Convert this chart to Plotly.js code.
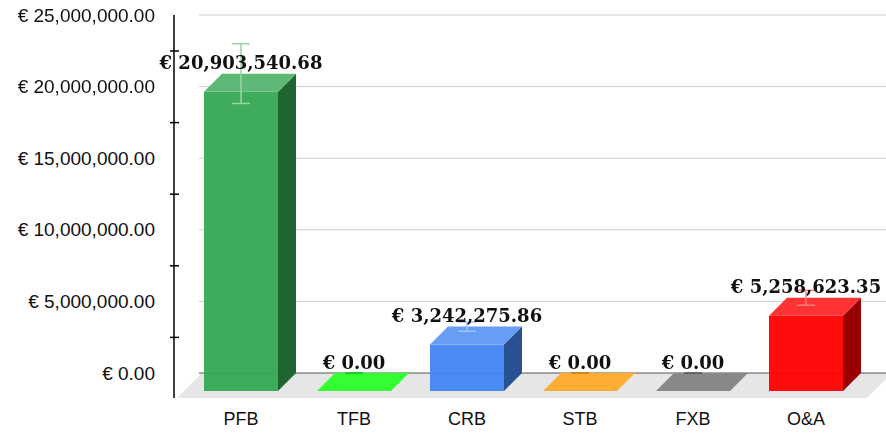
<!DOCTYPE html>
<html>
<head>
<meta charset="utf-8">
<script src="https://cdn.plot.ly/plotly-3.0.1.min.js"></script>
<style>html,body{margin:0;padding:0;background:#fff;}#chart{width:886px;height:433px;}</style>
</head>
<body>
<div id="chart"></div>
<script>
// ---- data ----
const categories = ['PFB', 'TFB', 'CRB', 'STB', 'FXB', 'O&A'];
const values = [20903540.68, 0, 3242275.86, 0, 0, 5258623.35];
const barColors = ['#34a853', '#00ff00', '#4285f4', '#ff9900', '#6a6a6a', '#ff0000'];
const errorPercent = 10;
const yTicks = [0, 5000000, 10000000, 15000000, 20000000, 25000000];

// ---- geometry / style ----
const W = 886, H = 433, ML = 170, MB = 35;
const plotW = W - ML, plotH = H - MB;
const pxPerCat = 113;
const pxPerUnit = 358 / 25000000;
const x0 = -(241 - ML) / pxPerCat;
const xRange = [x0, x0 + plotW / pxPerCat];
const y0 = -7 / pxPerUnit;
const yRange = [y0, y0 + plotH / pxPerUnit];
const barW = 74 / pxPerCat;
const Dx = 18 / pxPerCat, Dy = 18 / pxPerUnit;   // bar depth
const Fx = 25 / pxPerCat, Fy = 25 / pxPerUnit;   // floor depth
const px2x = p => x0 + (p - ML) / pxPerCat;

function mix(hex, t, target) {
  const n = parseInt(hex.slice(1), 16);
  const c = [(n >> 16) & 255, (n >> 8) & 255, n & 255];
  const r = c.map(v => Math.round(v + (target - v) * t));
  return 'rgb(' + r.join(',') + ')';
}
function dark(hex, f) {
  const n = parseInt(hex.slice(1), 16);
  const c = [(n >> 16) & 255, (n >> 8) & 255, n & 255];
  return 'rgb(' + c.map(v => Math.round(v * f)).join(',') + ')';
}
const fmt = v => '€ ' + v.toLocaleString('en-US', {minimumFractionDigits: 2, maximumFractionDigits: 2});

const traces = [];
const shapes = [];
const idx = categories.map((_, i) => i);

// floor (below everything)
const fl = px2x(177), fr = px2x(867);
shapes.push({
  type: 'path', layer: 'below', xref: 'x', yref: 'y',
  path: 'M' + fl + ',' + (Dy - Fy) + ' L' + fr + ',' + (Dy - Fy) + ' L' + (fr + Fx) + ',' + Dy +
        ' L' + (fl + Fx) + ',' + Dy + ' Z',
  fillcolor: '#e6e6e6', line: {width: 0}
});
// back wall gridlines
const gx0 = px2x(199), gx1 = xRange[1];
yTicks.forEach(t => {
  shapes.push({
    type: 'line', layer: 'below', xref: 'x', yref: 'y',
    x0: gx0, x1: gx1, y0: t + Dy, y1: t + Dy,
    line: {color: t === 0 ? '#555555' : '#cccccc', width: 1}
  });
});

// front faces
traces.push({
  type: 'bar', x: idx, y: values, width: barW, base: 0, opacity: 0.95,
  marker: {color: barColors, line: {width: 0}}, hoverinfo: 'skip', showlegend: false
});
// 3D faces
idx.forEach(i => {
  const v = values[i], c = barColors[i];
  const l = i - barW / 2, r = i + barW / 2;
  if (v > 0) {
    traces.push({
      type: 'scatter', mode: 'lines', fill: 'toself', fillcolor: dark(c, 0.6),
      line: {width: 0, color: 'rgba(0,0,0,0)'}, hoverinfo: 'skip', showlegend: false,
      x: [r, r + Dx, r + Dx, r, r], y: [0, Dy, v + Dy, v, 0]
    });
  }
  traces.push({
    type: 'scatter', mode: 'lines', fill: 'toself', fillcolor: mix(c, 0.2, 255),
    line: {width: 0, color: 'rgba(0,0,0,0)'}, hoverinfo: 'skip', showlegend: false,
    x: [l, r, r + Dx, l + Dx, l], y: [v, v, v + Dy, v + Dy, v]
  });
});
// error bars
idx.forEach(i => {
  traces.push({
    type: 'scatter', mode: 'markers', x: [i], y: [values[i] + Dy],
    marker: {size: 1, opacity: 0}, hoverinfo: 'skip', showlegend: false,
    error_y: {type: 'data', array: [values[i] * errorPercent / 100], visible: true,
              color: values[i] > 0 ? mix(barColors[i], 0.5, 255) : dark(barColors[i], 0.8),
              thickness: 1.5, width: 9}
  });
});
// value labels
traces.push({
  type: 'scatter', mode: 'text', x: idx, y: values.map(v => v + Dy),
  text: values.map(fmt), textposition: 'top center', cliponaxis: false,
  textfont: {family: 'DejaVu Serif', size: 18, color: '#111', weight: 'bold'},
  hoverinfo: 'skip', showlegend: false
});
// front axis line with crossing ticks
const ax = px2x(174), tk = 5 / pxPerCat;
const axX = [ax, ax], axY = [Dy - Fy, yTicks[yTicks.length - 1] + Dy];
yTicks.filter(t => t > 0).forEach(t => {
  axX.push(null, ax - tk, ax + tk);
  axY.push(null, t - Dy, t - Dy);
});
traces.push({
  type: 'scatter', mode: 'lines', x: axX, y: axY, cliponaxis: false,
  line: {color: '#000', width: 1.5}, hoverinfo: 'skip', showlegend: false
});

const layout = {
  width: W, height: H, paper_bgcolor: '#fff', plot_bgcolor: '#fff',
  margin: {l: ML, r: 0, t: 0, b: MB, pad: 0},
  showlegend: false, hovermode: false, shapes: shapes,
  xaxis: {
    range: xRange, showgrid: false, zeroline: false, showline: false, ticks: '',
    tickmode: 'array', tickvals: idx, ticktext: categories, ticklabelstandoff: 8,
    tickfont: {family: 'Liberation Sans', size: 18, color: '#111'}, fixedrange: true
  },
  yaxis: {
    range: yRange, showgrid: false, zeroline: false, showline: false, ticks: '',
    tickmode: 'array', tickvals: yTicks.map(t => t + Dy), ticktext: yTicks.map(fmt),
    ticklabelstandoff: 14,
    tickfont: {family: 'Liberation Sans', size: 19, color: '#111'}, fixedrange: true
  }
};
Plotly.newPlot('chart', traces, layout, {staticPlot: true, displayModeBar: false});
</script>
</body>
</html>
